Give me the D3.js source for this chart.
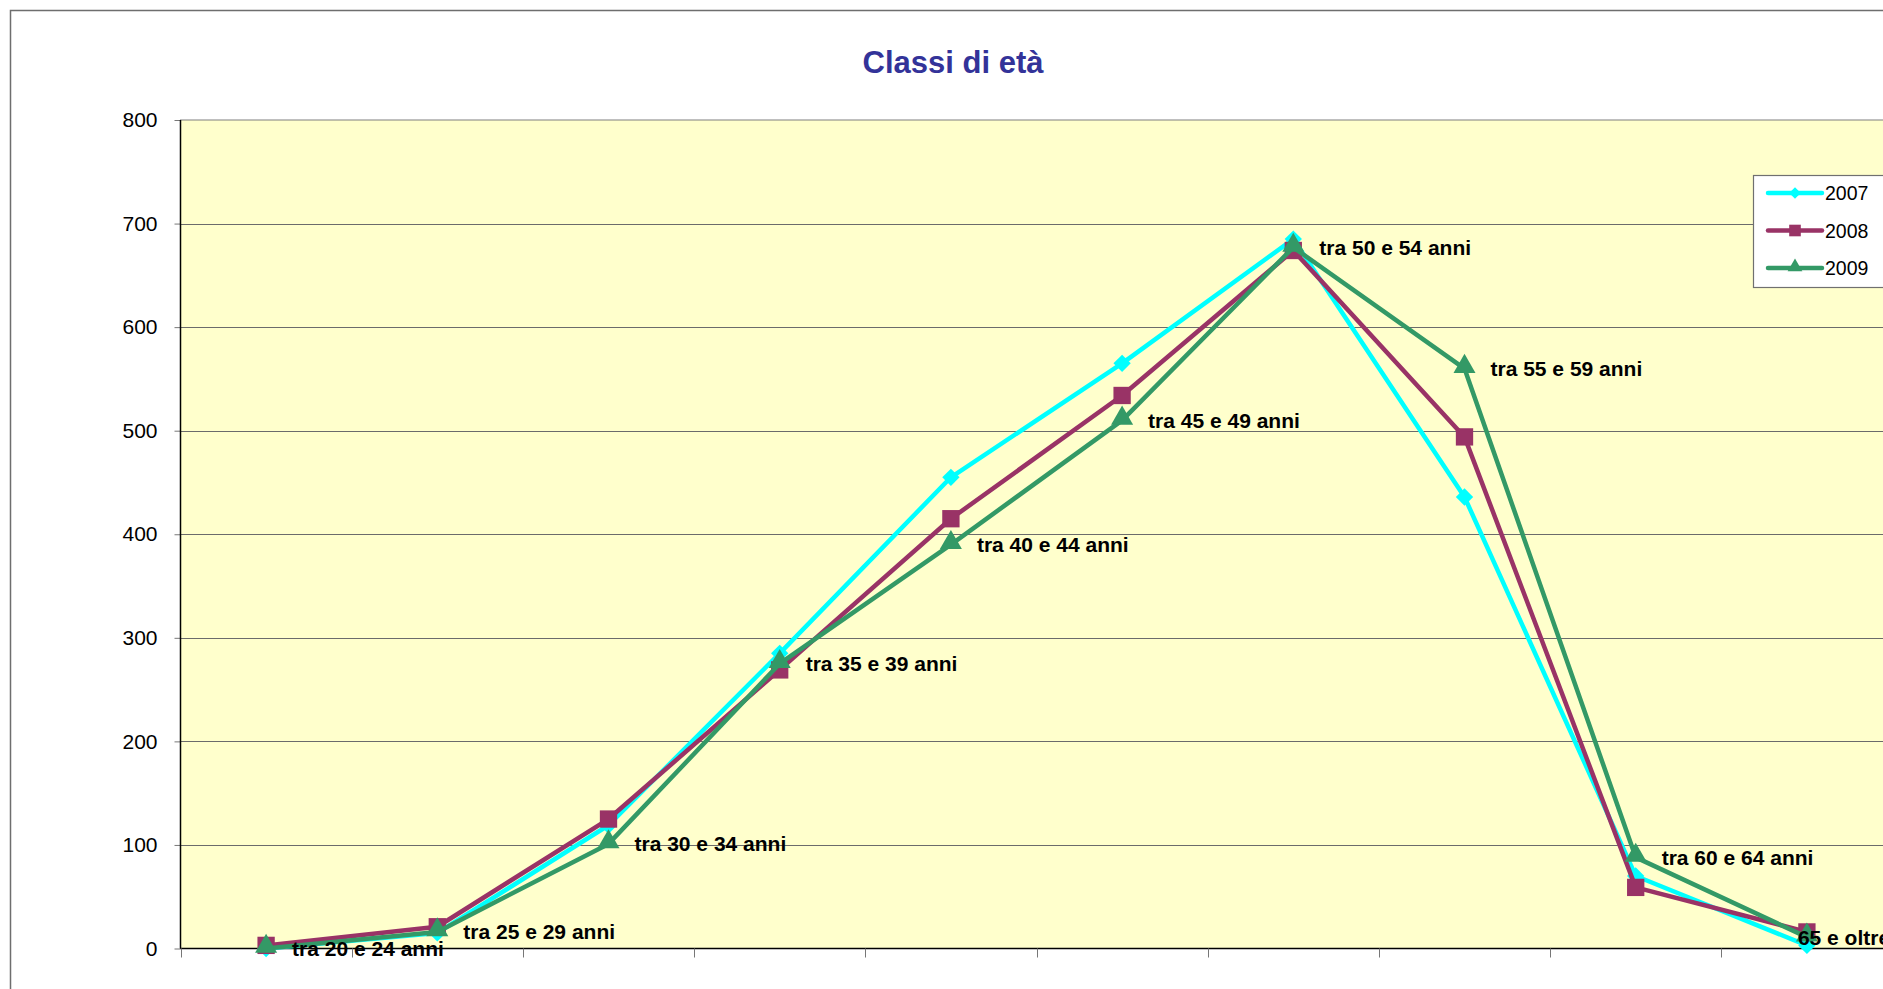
<!DOCTYPE html>
<meta charset="utf-8">
<style>
body { margin: 0; background: #fff; }
svg { display: block; font-family: "Liberation Sans", Arial, sans-serif; }
.grid line { stroke: #6b6b6b; stroke-width: 1px; }
.axis--y path, .axis--x path { display: none; }
.axis--y .tick line { stroke: #777; }
.axis--y .tick text { font-size: 21px; fill: #000; }
.label { font-size: 21px; font-weight: bold; fill: #000; }
</style>
<body>
<script src="https://d3js.org/d3.v7.min.js"></script>
<script>

// data
var categories = ["tra 20 e 24 anni", "tra 25 e 29 anni", "tra 30 e 34 anni", "tra 35 e 39 anni",
                  "tra 40 e 44 anni", "tra 45 e 49 anni", "tra 50 e 54 anni", "tra 55 e 59 anni",
                  "tra 60 e 64 anni", "65 e oltre"];
var values2007 = [0, 15, 119, 285, 455, 565, 685, 436, 70, 3];
var values2008 = [3, 21, 125, 269, 415, 534, 674, 494, 59, 16];
var values2009 = [0, 16, 101, 275, 390, 510, 677, 560, 88, 11];
var seriesNames = ["2007", "2008", "2009"];
var yTicks = [0, 100, 200, 300, 400, 500, 600, 700, 800];

var series = [
  {name: seriesNames[0], values: values2007, color: "#00ffff", symbol: "diamond"},
  {name: seriesNames[1], values: values2008, color: "#993366", symbol: "square"},
  {name: seriesNames[2], values: values2009, color: "#339966", symbol: "triangle"}
];

var W = 1883, H = 989;
var plot = {left: 180.5, top: 120, right: 1892.5, bottom: 948.5};

var svg = d3.select("body").append("svg")
    .attr("width", W)
    .attr("height", H);

// outer chart border (runs off the right/bottom edge)
svg.append("rect")
    .attr("x", 10.5).attr("y", 10.5)
    .attr("width", W + 20).attr("height", H + 20)
    .attr("fill", "#fff")
    .attr("stroke", "#6e6e6e")
    .attr("stroke-width", 1.5);

// scales
var x = d3.scaleBand().domain(categories).range([plot.left, plot.right]);
var y = d3.scaleLinear().domain([0, 800]).range([plot.bottom, plot.top]);
var cx = function(i) { return x(categories[i]) + x.bandwidth() / 2; };

// title
svg.append("text")
    .attr("x", 953).attr("y", 73)
    .attr("text-anchor", "middle")
    .style("font-size", "31px").style("font-weight", "bold")
    .style("fill", "#333399")
    .text("Classi di età");

// plot background
svg.append("rect")
    .attr("x", plot.left).attr("y", plot.top)
    .attr("width", plot.right - plot.left).attr("height", plot.bottom - plot.top)
    .attr("fill", "#ffffcc")
    .attr("stroke", "#808080")
    .attr("stroke-width", 1);

// gridlines
svg.append("g").attr("class", "grid")
  .selectAll("line")
  .data(yTicks.filter(function(d) { return d > 0 && d < 800; }))
  .enter().append("line")
    .attr("x1", plot.left).attr("x2", plot.right)
    .attr("y1", function(d) { return Math.round(y(d)) + 0.5; })
    .attr("y2", function(d) { return Math.round(y(d)) + 0.5; });

// y axis
var yAxis = d3.axisLeft(y).tickValues(yTicks).tickSize(6).tickPadding(17);
svg.append("g")
    .attr("class", "axis axis--y")
    .attr("transform", "translate(" + plot.left + ",0)")
    .call(yAxis);

svg.append("line")
    .attr("x1", plot.left).attr("x2", plot.left)
    .attr("y1", plot.top).attr("y2", plot.bottom)
    .attr("stroke", "#000").attr("stroke-width", 1.5);

// x axis: line and ticks at category boundaries
svg.append("line")
    .attr("x1", plot.left).attr("x2", plot.right)
    .attr("y1", plot.bottom).attr("y2", plot.bottom)
    .attr("stroke", "#000").attr("stroke-width", 1.5);

svg.append("g").attr("class", "axis axis--x")
  .selectAll("line")
  .data(categories)
  .enter().append("line")
    .attr("x1", function(d) { return Math.round(x(d)) + 0.5; })
    .attr("x2", function(d) { return Math.round(x(d)) + 0.5; })
    .attr("y1", plot.bottom).attr("y2", plot.bottom + 9)
    .attr("stroke", "#777");

// markers
function symbolPath(type, scale) {
  scale = scale || 1;
  if (type === "square") return d3.symbol(d3.symbolSquare, 300 * scale)();
  if (type === "triangle") return d3.symbol(d3.symbolTriangle, 210 * scale)();
  return d3.symbol(d3.symbolSquare, 150 * scale)();
}

var line = d3.line()
    .x(function(d, i) { return cx(i); })
    .y(function(d) { return y(d); });

series.forEach(function(s) {
  var g = svg.append("g");
  g.append("path")
      .datum(s.values)
      .attr("fill", "none")
      .attr("stroke", s.color)
      .attr("stroke-width", 4.5)
      .attr("stroke-linejoin", "round")
      .attr("d", line);
  g.selectAll("path.marker")
    .data(s.values)
    .enter().append("path")
      .attr("class", "marker")
      .attr("d", symbolPath(s.symbol))
      .attr("fill", s.color)
      .attr("transform", function(d, i) {
        var t = "translate(" + cx(i) + "," + y(d) + ")";
        if (s.symbol === "diamond") t += " rotate(45)";
        if (s.symbol === "triangle") t += " translate(0,-2)";
        return t;
      });
});

// category labels next to the 2009 points (the last one sits on its point)
svg.append("g")
  .selectAll("text")
  .data(values2009)
  .enter().append("text")
    .attr("class", "label")
    .attr("x", function(d, i) { return cx(i) + (i === categories.length - 1 ? -9 : 26); })
    .attr("y", function(d) { return y(d); })
    .attr("dy", "0.36em")
    .text(function(d, i) { return categories[i]; });

// legend
var legend = svg.append("g").attr("transform", "translate(1753,175)");
legend.append("rect")
    .attr("x", 0.5).attr("y", 0.5)
    .attr("width", 200).attr("height", 112)
    .attr("fill", "#fff")
    .attr("stroke", "#707070")
    .attr("stroke-width", 1.2);

var item = legend.selectAll("g.item")
  .data(series)
  .enter().append("g")
    .attr("class", "item")
    .attr("transform", function(d, i) { return "translate(0," + (18 + i * 37.5) + ")"; });

item.append("line")
    .attr("x1", 15).attr("x2", 69)
    .attr("stroke", function(d) { return d.color; })
    .attr("stroke-width", 4.5)
    .attr("stroke-linecap", "round");

item.append("path")
    .attr("d", function(d) { return symbolPath(d.symbol, 0.45); })
    .attr("fill", function(d) { return d.color; })
    .attr("transform", function(d) {
      return "translate(42,0)" + (d.symbol === "diamond" ? " rotate(45)" : "") +
             (d.symbol === "triangle" ? " translate(0,-1)" : "");
    });

item.append("text")
    .attr("x", 72).attr("dy", "0.36em")
    .style("font-size", "19.5px")
    .text(function(d) { return d.name; });

</script>
</body>
